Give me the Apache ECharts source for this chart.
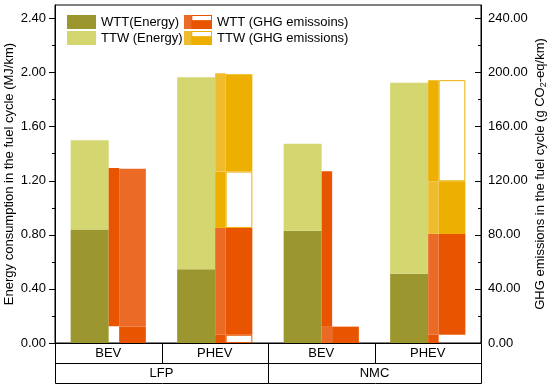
<!DOCTYPE html>
<html><head><meta charset="utf-8">
<script src="https://cdn.jsdelivr.net/npm/echarts@6/dist/echarts.min.js"></script>
<style>html,body{margin:0;padding:0;background:#fff}#c{width:550px;height:389px}</style>
</head><body><div id="c"></div>
<script>
// ---- data ----
const categories = ['BEV', 'PHEV', 'BEV', 'PHEV'];
const batteryGroups = ['LFP', 'NMC'];
const categoryGroupIndex = [0, 0, 1, 1];
const wttEnergy = [0.84, 0.545, 0.83, 0.513];
const ttwEnergy = [0.66, 1.42, 0.643, 1.412];
// GHG (g CO2-eq/km): back (narrow) sub-bar, stacked segments bottom->top
const ghgBackLevels = [
  [12.3, 6.1, 12.1, 6.1],
  [117.2, 79.0, 114.9, 74.6],
  ['-', 41.7, '-', 38.9],
  ['-', 72.8, '-', 74.8]
];
const ghgBackKinds = [
  ['blank', 'WTT', 'WTT-light', 'WTT'],
  ['WTT', 'WTT-light', 'WTT', 'WTT-light'],
  ['blank', 'TTW', 'blank', 'TTW-light'],
  ['blank', 'TTW-light', 'blank', 'TTW']
];
// front (wide) sub-bar
const ghgFrontLevels = [
  [12.3, 6.1, 12.1, 6.1],
  [116.5, 79.0, '-', 74.6],
  ['-', 41.7, '-', 38.9],
  ['-', 72.0, '-', 74.8]
];
const ghgFrontKinds = [
  ['WTT', 'WTT-hollow', 'WTT', 'blank'],
  ['WTT-light', 'WTT', 'blank', 'WTT'],
  ['blank', 'TTW-hollow', 'blank', 'TTW'],
  ['blank', 'TTW', 'blank', 'TTW-hollow']
];
const energyTicks = [0, 0.4, 0.8, 1.2, 1.6, 2.0, 2.4];
const energyMinorTicks = [0.2, 0.6, 1.0, 1.4, 1.8, 2.2];
const ghgTicks = [0, 40, 80, 120, 160, 200, 240];
const ghgMinorTicks = [20, 60, 100, 140, 180, 220];

// ---- styles ----
const FONT = 'Liberation Sans, Arial, sans-serif';
const COL = {
  wttE: '#9B962D', ttwE: '#D4D66F',
  wtt: '#E85400', wttL: '#EB6A25',
  ttw: '#EDB000', ttwL: '#EFBC2E'
};
const ROW_H = 20;
function styleFor(kind) {
  switch (kind) {
    case 'WTT': return { color: COL.wtt };
    case 'WTT-light': return { color: COL.wttL };
    case 'WTT-hollow': return { color: '#fff', borderColor: COL.wtt, borderWidth: 1 };
    case 'TTW': return { color: COL.ttw };
    case 'TTW-light': return { color: COL.ttwL };
    case 'TTW-hollow': return { color: '#fff', borderColor: COL.ttw, borderWidth: 1 };
    default: return { color: 'rgba(0,0,0,0)' };
  }
}
function ghgIcon(dark, light) {
  const svg = "<svg xmlns='http://www.w3.org/2000/svg' width='28' height='14'>" +
    "<rect x='0' y='0' width='28' height='14' fill='" + dark + "'/>" +
    "<rect x='0' y='0' width='7.3' height='14' fill='" + light + "'/>" +
    "<rect x='7.8' y='0.5' width='19.7' height='5.2' fill='#ffffff' stroke='" + dark + "' stroke-width='1'/></svg>";
  return 'image://data:image/svg+xml;charset=utf-8,' + encodeURIComponent(svg);
}

const W_ENERGY = 38, W_BACK = 10.5, W_FRONT = 26.7;
const series = [
  { name: 'WTT(Energy)', type: 'bar', stack: 'energy', yAxisIndex: 0, barWidth: W_ENERGY, barGap: '0%',
    itemStyle: { color: COL.wttE }, data: wttEnergy },
  { name: 'TTW (Energy)', type: 'bar', stack: 'energy', yAxisIndex: 0, barWidth: W_ENERGY, barGap: '0%',
    itemStyle: { color: COL.ttwE }, data: ttwEnergy }
];
ghgBackLevels.forEach((lvl, li) => {
  series.push({ name: 'back' + li, type: 'bar', stack: 'back', yAxisIndex: 1, barWidth: W_BACK, barGap: '0%',
    data: lvl.map((v, i) => ({ value: v, itemStyle: styleFor(ghgBackKinds[li][i]) })) });
});
ghgFrontLevels.forEach((lvl, li) => {
  series.push({ name: 'front' + li, type: 'bar', stack: 'front', yAxisIndex: 1, barWidth: W_FRONT, barGap: '0%',
    data: lvl.map((v, i) => ({ value: v, itemStyle: styleFor(ghgFrontKinds[li][i]) })) });
});
series.push({ name: 'WTT (GHG emissoins)', type: 'bar', stack: 'front', yAxisIndex: 1, barWidth: W_FRONT, barGap: '0%',
  itemStyle: { color: COL.wtt }, data: [] });
series.push({ name: 'TTW (GHG emissions)', type: 'bar', stack: 'front', yAxisIndex: 1, barWidth: W_FRONT, barGap: '0%',
  itemStyle: { color: COL.ttw }, data: [] });
// category table lines under the x axis
series.push({
  name: 'table', type: 'custom', xAxisIndex: 0, yAxisIndex: 0, silent: true, clip: false, z: 10,
  data: categories.map((c, i) => [i, 0]),
  encode: { x: 0, y: 1 },
  renderItem: function (params, api) {
    const i = api.value(0);
    const p = api.coord([i, 0]);
    const bw = api.size([1, 0])[0];
    const l = Math.round(p[0] - bw / 2) + 0.5, r = Math.round(p[0] + bw / 2) + 0.5;
    const y0 = Math.round(p[1]) + 0.5, y1 = y0 + ROW_H, y2 = y0 + 2 * ROW_H;
    const g = categoryGroupIndex;
    const firstInGroup = i === 0 || g[i - 1] !== g[i];
    const lastInGroup = i === g.length - 1 || g[i + 1] !== g[i];
    const st = { stroke: '#000', lineWidth: 1 };
    const children = [
      { type: 'line', shape: { x1: l, y1: y1, x2: r, y2: y1 }, style: st },
      { type: 'line', shape: { x1: l, y1: y2, x2: r, y2: y2 }, style: st },
      { type: 'line', shape: { x1: l, y1: y0, x2: l, y2: firstInGroup ? y2 : y1 }, style: st },
      { type: 'line', shape: { x1: r, y1: y0, x2: r, y2: lastInGroup ? y2 : y1 }, style: st }
    ];
    return { type: 'group', children: children };
  }
});

const labelStyle = { color: '#000', fontFamily: FONT, fontSize: 13 };
const chart = echarts.init(document.getElementById('c'), null, { renderer: 'canvas' });
chart.setOption({
  animation: false,
  backgroundColor: '#fff',
  textStyle: { fontFamily: FONT },
  grid: { left: 55, right: 69, top: 5, bottom: 46, containLabel: false, outerBoundsMode: 'none',
    show: true, borderColor: '#000', borderWidth: 1, backgroundColor: 'transparent' },
  legend: [
    { orient: 'vertical', left: 67, top: 15, padding: 0, itemGap: 2, itemWidth: 29, itemHeight: 14,
      selectedMode: false, textStyle: labelStyle,
      data: [{ name: 'WTT(Energy)', icon: 'rect' }, { name: 'TTW (Energy)', icon: 'rect' }] },
    { orient: 'vertical', left: 184, top: 15, padding: 0, itemGap: 2, itemWidth: 28, itemHeight: 14,
      selectedMode: false, textStyle: labelStyle,
      data: [{ name: 'WTT (GHG emissoins)', icon: ghgIcon(COL.wtt, COL.wttL) },
             { name: 'TTW (GHG emissions)', icon: ghgIcon(COL.ttw, COL.ttwL) }] }
  ],
  xAxis: [
    { type: 'category', data: categories, position: 'bottom',
      axisLine: { show: true, lineStyle: { color: '#000', width: 1 } },
      axisTick: { show: false },
      axisLabel: Object.assign({ margin: 4, interval: 0 }, labelStyle),
      splitLine: { show: false } },
    { type: 'category', data: batteryGroups, position: 'bottom', offset: ROW_H,
      axisLine: { show: false }, axisTick: { show: false },
      axisLabel: Object.assign({ margin: 4, interval: 0 }, labelStyle),
      splitLine: { show: false } }
  ],
  yAxis: [
    { type: 'value', position: 'left', min: 0, max: 2.5, interval: 0.4,
      name: 'Energy consumption in the fuel cycle (MJ/km)', nameLocation: 'middle', nameGap: 39, nameRotate: 90,
      nameMoveOverlap: false, nameTextStyle: labelStyle,
      axisLine: { show: true, lineStyle: { color: '#000', width: 1 } },
      axisTick: { show: true, length: 6, customValues: energyTicks, lineStyle: { color: '#000' } },
      axisLabel: Object.assign({ margin: 9, customValues: energyTicks, formatter: v => v.toFixed(2) }, labelStyle),
      splitLine: { show: false } },
    { type: 'value', position: 'right', min: 0, max: 250, interval: 40,
      name: 'GHG emissions in the fuel cycle (g CO{sub|2}-eq/km)', nameLocation: 'middle', nameGap: 52, nameRotate: 90,
      nameMoveOverlap: false,
      nameTextStyle: Object.assign({ rich: { sub: { fontSize: 9, fontFamily: FONT, color: '#000', verticalAlign: 'bottom', padding: [6, 0, 0, 0] } } }, labelStyle),
      axisLine: { show: true, lineStyle: { color: '#000', width: 1 } },
      axisTick: { show: true, inside: true, length: 6, customValues: ghgTicks, lineStyle: { color: '#000' } },
      axisLabel: Object.assign({ margin: 7, customValues: ghgTicks, formatter: v => v.toFixed(2) }, labelStyle),
      splitLine: { show: false } },
    { type: 'value', position: 'left', min: 0, max: 2.5, interval: 0.4,
      axisLine: { show: false },
      axisTick: { show: true, length: 3, customValues: energyMinorTicks, lineStyle: { color: '#000' } },
      axisLabel: { show: false }, splitLine: { show: false } },
    { type: 'value', position: 'right', min: 0, max: 250, interval: 40,
      axisLine: { show: false },
      axisTick: { show: true, inside: true, length: 3, customValues: ghgMinorTicks, lineStyle: { color: '#000' } },
      axisLabel: { show: false }, splitLine: { show: false } }
  ],
  series: series
});
</script></body></html>
